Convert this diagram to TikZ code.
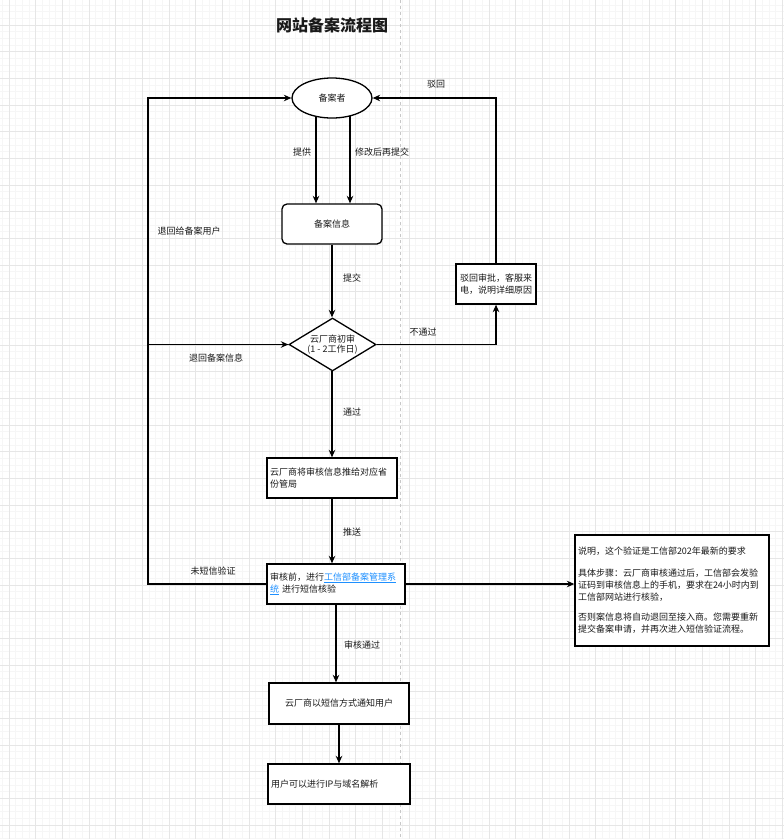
\documentclass[tikz,border=0pt]{standalone}
\usepackage{fontspec}
\setmainfont{Noto Sans CJK SC}
\usetikzlibrary{shapes.geometric,arrows.meta,calc}
\definecolor{gridminor}{HTML}{F6F6F6}
\definecolor{gridmajor}{HTML}{E6E6E6}
\definecolor{pagebreak}{HTML}{C8C8C8}
\definecolor{txt}{HTML}{1A1A1A}
\definecolor{linkblue}{HTML}{1E90FF}
\tikzset{
  every node/.style={font=\fontsize{9}{11}\selectfont, text=txt},
  box/.style={draw=black, line width=1.3pt, fill=white, inner sep=3pt, minimum height=40pt},
  rbox/.style={box, rounded corners=5pt},
  lbl/.style={inner sep=1pt},
  arr/.style={draw=black, line width=1.3pt, -{Stealth[length=7.5pt,width=6.5pt]}},
  ln/.style={draw=black, line width=1.3pt},
}
\begin{document}
\begin{tikzpicture}[x=1pt,y=-1pt]
\useasboundingbox (0,0) rectangle (784,839);
\fill[white] (0,0) rectangle (784,839);
% grid
\foreach \i in {0,...,117} {\draw[gridminor, line width=0.5pt] ({2.333+6.6667*\i},0) -- ({2.333+6.6667*\i},839);}
\foreach \i in {0,...,125} {\draw[gridminor, line width=0.5pt] (0,{5+6.6667*\i}) -- (784,{5+6.6667*\i});}
\foreach \i in {0,...,29} {\draw[gridmajor, line width=0.6pt] ({9+26.6667*\i},0) -- ({9+26.6667*\i},839);}
\foreach \i in {0,...,31} {\draw[gridmajor, line width=0.6pt] (0,{-1.667+26.6667*\i}) -- (784,{-1.667+26.6667*\i});}
\draw[pagebreak, dashed, line width=0.6pt] (400,0) -- (400,839);

% title
\node[font=\fontsize{16}{19}\selectfont\bfseries] (title) at (332,25) {网站备案流程图};

% nodes
\node[ellipse, draw=black, line width=1.3pt, fill=white, minimum width=80pt, minimum height=40pt, inner sep=0pt] (user) at (332,98) {备案者};
\node[rbox, minimum width=100pt] (info) at (332,224) {备案信息};
\node[diamond, draw=black, line width=1.3pt, fill=white, minimum width=87pt, minimum height=53pt, inner sep=0pt] (review) at (332.5,344.5) {};
\node[align=center, font=\fontsize{9}{10.5}\selectfont] (reviewtxt) at (review.center) {云厂商初审\\(1 - 2工作日)};
\node[box, minimum width=80pt, align=center, inner sep=1pt, font=\fontsize{9}{12}\selectfont] (reject) at (496,284) {驳回审批，客服来\\电，说明详细原因};
\node[box, minimum width=130pt, text width=124pt, align=left, font=\fontsize{9}{12}\selectfont] (push) at (332,478) {云厂商将审核信息推给对应省\\份管局};
\node[box, minimum width=138pt, text width=132pt, align=left, font=\fontsize{9}{12}\selectfont] (verify) at (336,584) {审核前，进行\textcolor{linkblue}{\underline{工信部备案管理系}}\\\textcolor{linkblue}{\underline{统}} 进行短信核验};
\node[box, minimum width=194pt, minimum height=111pt, text width=188pt, align=left, font=\fontsize{9}{12}\selectfont] (note) at (672,590.5) {说明，这个验证是工信部202年最新的要求\\[10pt]具体步骤：云厂商审核通过后，工信部会发验\\证码到审核信息上的手机，要求在24小时内到\\工信部网站进行核验，\\[8pt]否则案信息将自动退回至接入商。您需要重新\\提交备案申请，并再次进入短信验证流程。};
\node[box, minimum width=140pt, minimum height=41pt] (notify) at (339,703.5) {云厂商以短信方式通知用户};
\node[box, minimum width=142pt, text width=136pt, align=left] (final) at (339,784) {用户可以进行IP与域名解析};

% connectors
\coordinate (lx) at (148,0);
\draw[arr] ($(user.center)+(-16,18.3)$) -- ($(info.north)+(-16,0)$);
\draw[arr] ($(user.center)+(18,17.8)$) -- ($(info.north)+(18,0)$);
\draw[arr] (info.south) -- (info.south |- review.north);
\draw[arr] (review.east) -- (review.east -| reject.south) -- (reject.south);
\draw[arr] (reject.north) -- (reject.north |- user.east) -- (user.east);
\draw[arr] (review.south) -- (review.south -| push.north) -- (push.north);
\draw[arr] (push.south) -- (push.south |- verify.north);
\draw[arr] (verify.west) -- (verify.west -| lx) -- (user.west -| lx) -- (user.west);
\draw[arr] (review.west -| lx) -- (review.west);
\draw[arr] (verify.east) -- (verify.east -| note.west);
\draw[arr] (verify.south) -- (verify.south |- notify.north);
\draw[arr] (notify.south) -- (notify.south |- final.north);

% labels
\node[lbl] (l1) at (302,152) {提供};
\node[lbl] (l2) at (382,152) {修改后再提交};
\node[lbl] (l3) at (352,278) {提交};
\node[lbl] (l4) at (423,332) {不通过};
\node[lbl] (l5) at (436,84) {驳回};
\node[lbl] (l6) at (189,231) {退回给备案用户};
\node[lbl] (l7) at (216,358) {退回备案信息};
\node[lbl] (l8) at (352,412) {通过};
\node[lbl] (l9) at (352,532) {推送};
\node[lbl] (l10) at (213,571) {未短信验证};
\node[lbl] (l11) at (362,645) {审核通过};
\end{tikzpicture}
\end{document}
